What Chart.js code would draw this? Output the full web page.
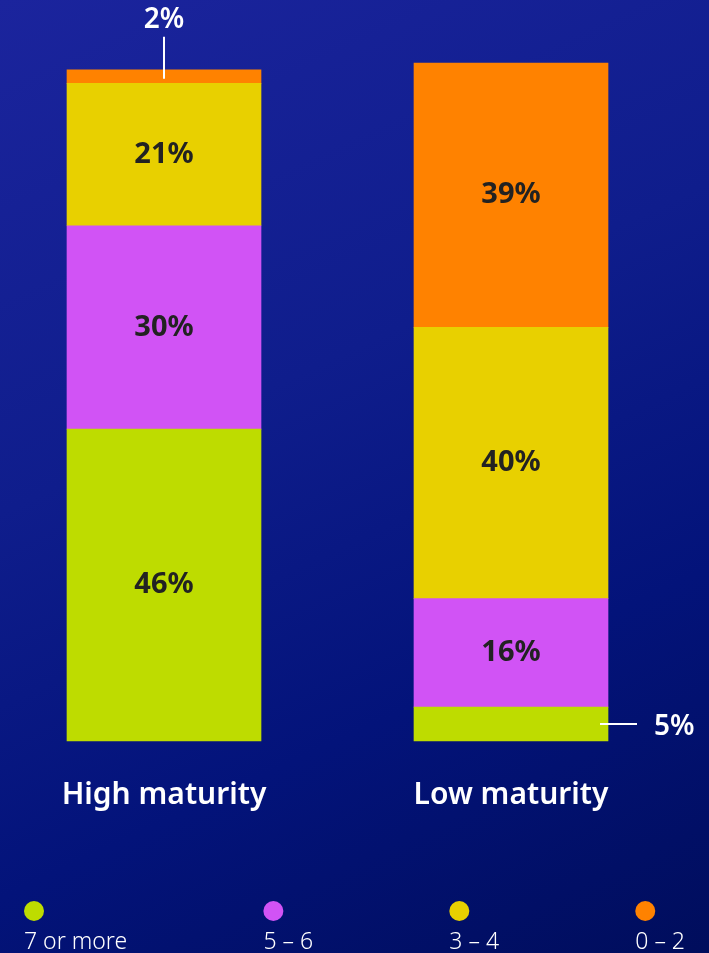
<!DOCTYPE html>
<html>
<head>
<meta charset="utf-8">
<script src="https://cdn.jsdelivr.net/npm/chart.js@4/dist/chart.umd.min.js"></script>
<style>
  html, body { margin: 0; padding: 0; }
  body {
    width: 709px; height: 953px; overflow: hidden;
    background: linear-gradient(155deg, #1b249d 0%, #0f1d8c 40%, #03137a 70%, #000d5c 100%);
  }
  canvas { display: block; }
</style>
</head>
<body>
<canvas id="chart" width="709" height="953"></canvas>
<script>
const categories = ["High maturity", "Low maturity"];
const scoreBands = ["7 or more", "5 – 6", "3 – 4", "0 – 2"];
const highShares = [46, 30, 21, 2];
const lowShares = [5, 16, 40, 39];
const bandColors = ["#bedc00", "#d153f5", "#e8d000", "#ff8200"];

const FONT = "'Noto Sans', sans-serif";

// values inside the segments, small ones get a callout line
const segmentLabels = {
  id: "segmentLabels",
  afterDatasetsDraw(chart) {
    const ctx = chart.ctx;
    const last = chart.data.datasets.length - 1;
    ctx.save();
    chart.data.datasets.forEach((ds, di) => {
      chart.getDatasetMeta(di).data.forEach((bar, i) => {
        const v = ds.data[i];
        const text = v + "%";
        if (v >= 10) {
          ctx.fillStyle = "#222222";
          ctx.font = "bold 29px " + FONT;
          ctx.textAlign = "center";
          ctx.textBaseline = "middle";
          ctx.fillText(text, bar.x, (bar.y + bar.base) / 2);
          return;
        }
        ctx.strokeStyle = "#ffffff";
        ctx.fillStyle = "#ffffff";
        ctx.lineWidth = 2;
        ctx.font = "600 28px " + FONT;
        ctx.textBaseline = "middle";
        if (di === last) {
          ctx.beginPath();
          ctx.moveTo(bar.x, bar.y + 9);
          ctx.lineTo(bar.x, bar.y - 33);
          ctx.stroke();
          ctx.textAlign = "center";
          ctx.fillText(text, bar.x, bar.y - 50);
        } else {
          const yMid = (bar.y + bar.base) / 2;
          const right = bar.x + bar.width / 2;
          ctx.beginPath();
          ctx.moveTo(right - 8, yMid);
          ctx.lineTo(right + 29, yMid);
          ctx.stroke();
          ctx.textAlign = "left";
          ctx.fillText(text, right + 46, yMid + 3);
        }
      });
    });
    ctx.restore();
  }
};

// dot + text legend spread along the bottom
const bottomLegend = {
  id: "bottomLegend",
  afterDraw(chart) {
    const ctx = chart.ctx;
    const items = chart.data.datasets;
    const left = 24, right = 685;
    ctx.save();
    ctx.font = "300 23px " + FONT;
    const widths = items.map(d => Math.max(ctx.measureText(d.label).width, 20));
    const total = widths.reduce((a, b) => a + b, 0);
    const gap = (right - left - total) / (items.length - 1);
    let x = left;
    items.forEach((d, i) => {
      ctx.fillStyle = d.backgroundColor;
      ctx.beginPath();
      ctx.arc(x + 10, 911, 10, 0, Math.PI * 2);
      ctx.fill();
      ctx.fillStyle = "#ffffff";
      ctx.textAlign = "left";
      ctx.textBaseline = "middle";
      ctx.fillText(d.label, x, 942);
      x += widths[i] + gap;
    });
    ctx.restore();
  }
};

new Chart(document.getElementById("chart"), {
  type: "bar",
  data: {
    labels: categories,
    datasets: scoreBands.map((band, i) => ({
      label: band,
      data: [highShares[i], lowShares[i]],
      backgroundColor: bandColors[i],
      barThickness: 194,
      borderWidth: 0,
      borderSkipped: false,
      clip: false
    }))
  },
  options: {
    responsive: false,
    animation: false,
    layout: { padding: { left: 164, right: 198, top: 63, bottom: 104 } },
    plugins: { legend: { display: false }, tooltip: { enabled: false } },
    scales: {
      x: {
        stacked: true,
        offset: false,
        grid: { display: false, drawTicks: false },
        border: { display: false },
        ticks: {
          color: "#ffffff",
          font: { family: FONT, size: 30, weight: "600" },
          padding: 36,
          maxRotation: 0,
          autoSkip: false
        }
      },
      y: {
        stacked: true,
        display: false,
        min: 0,
        max: 100
      }
    }
  },
  plugins: [segmentLabels, bottomLegend]
});
</script>
</body>
</html>
